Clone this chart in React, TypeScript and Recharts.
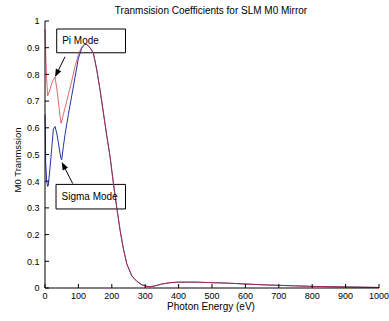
import React from "react";
import {
  LineChart,
  Line,
  XAxis,
  YAxis,
  ReferenceArea,
  ReferenceLine,
  Label,
  Customized,
} from "recharts";

// photon energy grid (eV)
const energies = [
  0, 1, 2, 5, 8, 10, 15, 20, 25, 30, 35, 40, 45, 48, 50, 55, 60, 70, 80, 90,
  100, 110, 118, 125, 135, 145, 155, 165, 175, 185, 195, 205, 215, 225, 235,
  245, 260, 275, 290, 305, 315, 330, 350, 375, 400, 450, 500, 550, 600, 650,
  700, 750, 800, 850, 900, 950, 1000,
];

const piMode = [
  0.97, 0.93, 0.88, 0.78, 0.72, 0.725, 0.745, 0.765, 0.78, 0.79, 0.75, 0.7,
  0.645, 0.617, 0.625, 0.65, 0.675, 0.725, 0.775, 0.83, 0.875, 0.903, 0.913,
  0.912, 0.9, 0.879, 0.817, 0.74, 0.655, 0.57, 0.49, 0.39, 0.3, 0.215, 0.145,
  0.09, 0.045, 0.025, 0.012, 0.006, 0.005, 0.008, 0.015, 0.02, 0.022, 0.022,
  0.02, 0.018, 0.015, 0.012, 0.01, 0.008, 0.006, 0.005, 0.004, 0.003, 0.002,
];

const sigmaMode = [
  0.65, 0.6, 0.47, 0.4, 0.38, 0.385, 0.45, 0.52, 0.595, 0.605, 0.58, 0.545,
  0.505, 0.485, 0.48, 0.53, 0.575, 0.65, 0.72, 0.79, 0.86, 0.898, 0.912,
  0.912, 0.9, 0.879, 0.817, 0.74, 0.655, 0.57, 0.49, 0.39, 0.3, 0.215, 0.145,
  0.09, 0.045, 0.025, 0.012, 0.006, 0.005, 0.008, 0.015, 0.02, 0.022, 0.022,
  0.02, 0.018, 0.015, 0.012, 0.01, 0.008, 0.006, 0.005, 0.004, 0.003, 0.002,
];

const xTicks = [0, 100, 200, 300, 400, 500, 600, 700, 800, 900, 1000];
const yTicks = [0, 0.1, 0.2, 0.3, 0.4, 0.5, 0.6, 0.7, 0.8, 0.9, 1];

// text boxes with arrows, in data units
const notes = [
  { text: "Pi Mode", box: [35, 241, 0.881, 0.97], from: [60, 0.866], to: [30, 0.79] },
  { text: "Sigma Mode", box: [33, 241, 0.296, 0.388], from: [83, 0.391], to: [50, 0.472] },
];

const FONT = "'Liberation Sans', Arial, Helvetica, sans-serif";

const data = energies.map((e, i) => ({
  energy: e,
  pi: piMode[i],
  sigma: sigmaMode[i],
}));

function BottomTick({ x, y, payload }: any) {
  return (
    <g>
      <line x1={x} y1={y} x2={x} y2={y - 4} stroke="#000" />
      <text x={x} y={y + 10.5} textAnchor="middle" fontSize={9} fontFamily={FONT} fill="#000">
        {payload.value}
      </text>
    </g>
  );
}

function TopTick({ x, y }: any) {
  return <line x1={x} y1={y} x2={x} y2={y + 4} stroke="#000" />;
}

function LeftTick({ x, y, payload }: any) {
  return (
    <g>
      <line x1={x} y1={y} x2={x + 4} y2={y} stroke="#000" />
      <text x={x - 5.5} y={y + 3.3} textAnchor="end" fontSize={9} fontFamily={FONT} fill="#000">
        {payload.value}
      </text>
    </g>
  );
}

function RightTick({ x, y }: any) {
  return <line x1={x} y1={y} x2={x - 4} y2={y} stroke="#000" />;
}

function Arrow(props: any) {
  const { x1, y1, x2, y2 } = props;
  const ang = Math.atan2(y2 - y1, x2 - x1);
  const len = 8;
  const w = 3;
  const bx = x2 - len * Math.cos(ang);
  const by = y2 - len * Math.sin(ang);
  const px = -Math.sin(ang) * w;
  const py = Math.cos(ang) * w;
  return (
    <g>
      <line x1={x1} y1={y1} x2={bx} y2={by} stroke="#000" strokeWidth={1} />
      <polygon points={`${x2},${y2} ${bx + px},${by + py} ${bx - px},${by - py}`} fill="#000" />
    </g>
  );
}

function Titles() {
  return (
    <g fontFamily={FONT} fill="#000" fontSize={10}>
      <text x={211} y={13.5} textAnchor="middle">
        Tranmsision Coefficients for SLM M0 Mirror
      </text>
      <text x={211} y={310} textAnchor="middle">
        Photon Energy (eV)
      </text>
      <text
        x={20.5}
        y={160}
        textAnchor="middle"
        fontSize={9.5}
        transform="rotate(-90 20.5 160)"
      >
        M0 Tranmssion
      </text>
    </g>
  );
}

export default function App() {
  return (
    <div style={{ width: 389, height: 321, background: "#fff" }}>
      <style>{"body{margin:0}"}</style>
      <LineChart
        width={389}
        height={321}
        data={data}
        margin={{ top: 21, right: 10, bottom: 0, left: 0 }}
      >
        <XAxis
          dataKey="energy"
          type="number"
          domain={[0, 1000]}
          ticks={xTicks}
          height={33}
          tickSize={0}
          tickMargin={0}
          tick={<BottomTick />}
          tickLine={false}
          axisLine={{ stroke: "#000" }}
          interval={0}
        />
        <XAxis
          xAxisId="top"
          orientation="top"
          dataKey="energy"
          type="number"
          domain={[0, 1000]}
          ticks={xTicks}
          height={0}
          tickSize={0}
          tickMargin={0}
          tick={<TopTick />}
          tickLine={false}
          axisLine={{ stroke: "#000" }}
          interval={0}
        />
        <YAxis
          type="number"
          domain={[0, 1]}
          ticks={yTicks}
          width={45}
          tickSize={0}
          tickMargin={0}
          tick={<LeftTick />}
          tickLine={false}
          axisLine={{ stroke: "#000" }}
          interval={0}
        />
        <YAxis
          yAxisId="right"
          orientation="right"
          type="number"
          domain={[0, 1]}
          ticks={yTicks}
          width={0}
          tickSize={0}
          tickMargin={0}
          tick={<RightTick />}
          tickLine={false}
          axisLine={{ stroke: "#000" }}
          interval={0}
        />
        <Line
          type="linear"
          dataKey="sigma"
          stroke="#2233a0"
          strokeWidth={1}
          dot={false}
          isAnimationActive={false}
        />
        <Line
          type="linear"
          dataKey="pi"
          stroke="#d02828"
          strokeOpacity={0.7}
          strokeWidth={1}
          dot={false}
          isAnimationActive={false}
        />
        {notes.map((n) => (
          <ReferenceArea
            key={n.text}
            x1={n.box[0]}
            x2={n.box[1]}
            y1={n.box[2]}
            y2={n.box[3]}
            fill="none"
            fillOpacity={0}
            stroke="#000"
            strokeWidth={1}
            strokeOpacity={1}
          >
            <Label
              value={n.text}
              position="insideLeft"
              offset={5.5}
              fontSize={10}
              fontFamily={FONT}
              fill="#000"
            />
          </ReferenceArea>
        ))}
        {notes.map((n) => (
          <ReferenceLine
            key={n.text + "-arrow"}
            segment={[
              { x: n.from[0], y: n.from[1] },
              { x: n.to[0], y: n.to[1] },
            ]}
            stroke="#000"
            shape={<Arrow />}
          />
        ))}
        <Customized component={Titles} />
      </LineChart>
    </div>
  );
}
